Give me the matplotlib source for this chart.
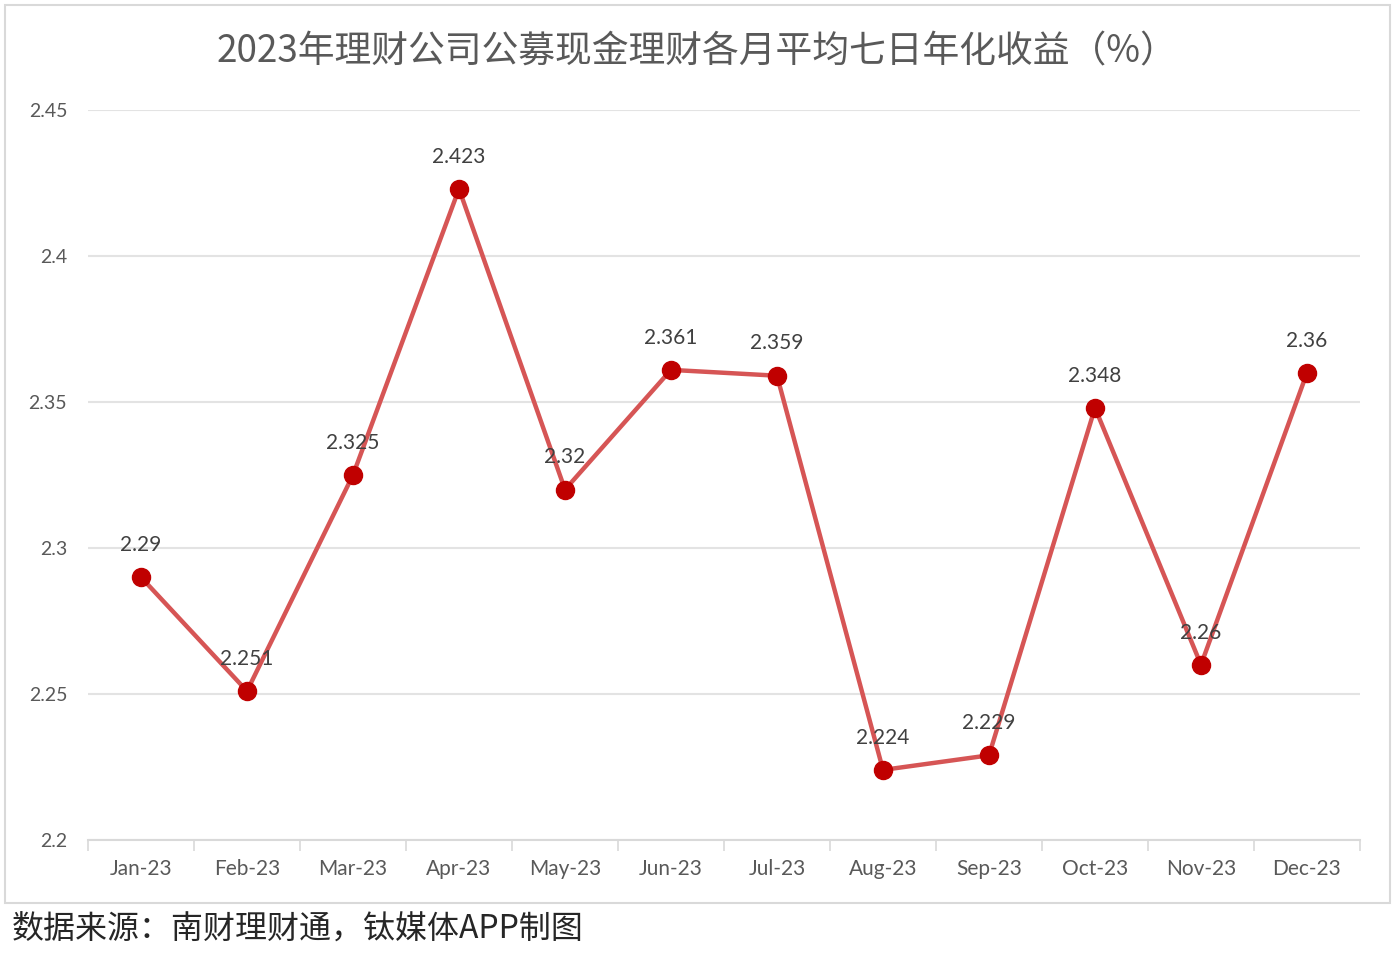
import numpy as np
import matplotlib.pyplot as plt
from matplotlib.patches import Rectangle

# Datos
months = ['Jan-23', 'Feb-23', 'Mar-23', 'Apr-23', 'May-23', 'Jun-23',
          'Jul-23', 'Aug-23', 'Sep-23', 'Oct-23', 'Nov-23', 'Dec-23']
values = [2.29, 2.251, 2.325, 2.423, 2.32, 2.361,
          2.359, 2.224, 2.229, 2.348, 2.26, 2.36]
value_labels = ['2.29', '2.251', '2.325', '2.423', '2.32', '2.361',
                '2.359', '2.224', '2.229', '2.348', '2.26', '2.36']
yticks = [2.2, 2.25, 2.3, 2.35, 2.4, 2.45]
ytick_labels = ['2.2', '2.25', '2.3', '2.35', '2.4', '2.45']

title = '2023年理财公司公募现金理财各月平均七日年化收益（%）'
source = '数据来源：南财理财通，钛媒体APP制图'

plt.rcParams['font.family'] = ['Noto Sans CJK SC', 'DejaVu Sans']
grey = '#595959'
num_font = ['Lato', 'DejaVu Sans']

fig = plt.figure(figsize=(14, 9.59), dpi=100)
fig.patches.append(Rectangle((5 / 1400, 1 - 903 / 959), 1385 / 1400, 898 / 959,
                             transform=fig.transFigure, fill=False,
                             edgecolor='#d9d9d9', linewidth=1.5))

ax = fig.add_axes([88 / 1400, 1 - 840 / 959, 1272 / 1400, 730 / 959])
x = np.arange(len(months))

ax.plot(x, values, color='#d65555', linewidth=3.2, zorder=3)
ax.plot(x, values, 'o', color='#c00000', markersize=13, zorder=4)

for xi, v, lab in zip(x, values, value_labels):
    ax.annotate(lab, (xi, v), xytext=(0, 16), textcoords='offset points',
                ha='center', va='bottom', fontsize=15, color='#404040',
                family=num_font, zorder=5)

ax.set_xlim(-0.5, len(months) - 0.5)
ax.set_ylim(2.2, 2.45)
ax.set_yticks(yticks)
ax.set_yticklabels(ytick_labels, family=num_font, fontsize=14, color=grey)
ax.set_xticks(x)
ax.set_xticklabels(months, family=num_font, fontsize=15, color=grey)
ax.set_xticks(np.arange(-0.5, len(months), 1), minor=True)
ax.tick_params(axis='x', which='major', length=0, pad=14)
ax.tick_params(axis='x', which='minor', length=8, color='#d9d9d9', width=1.2)
ax.tick_params(axis='y', length=0, pad=15)

ax.grid(axis='y', color='#e3e3e3', linewidth=1.5)
ax.set_axisbelow(True)
for side in ['top', 'right', 'left']:
    ax.spines[side].set_visible(False)
ax.spines['bottom'].set_color('#d9d9d9')
ax.spines['bottom'].set_linewidth(1.5)

fig.text(697 / 1400, 1 - 52 / 959, title, ha='center', va='center',
         fontsize=26.5, color=grey)
fig.text(12 / 1400, 1 - 930 / 959, source, ha='left', va='center',
         fontsize=23, color='#262626', fontweight='medium')

fig.savefig('out.png', dpi=100)
